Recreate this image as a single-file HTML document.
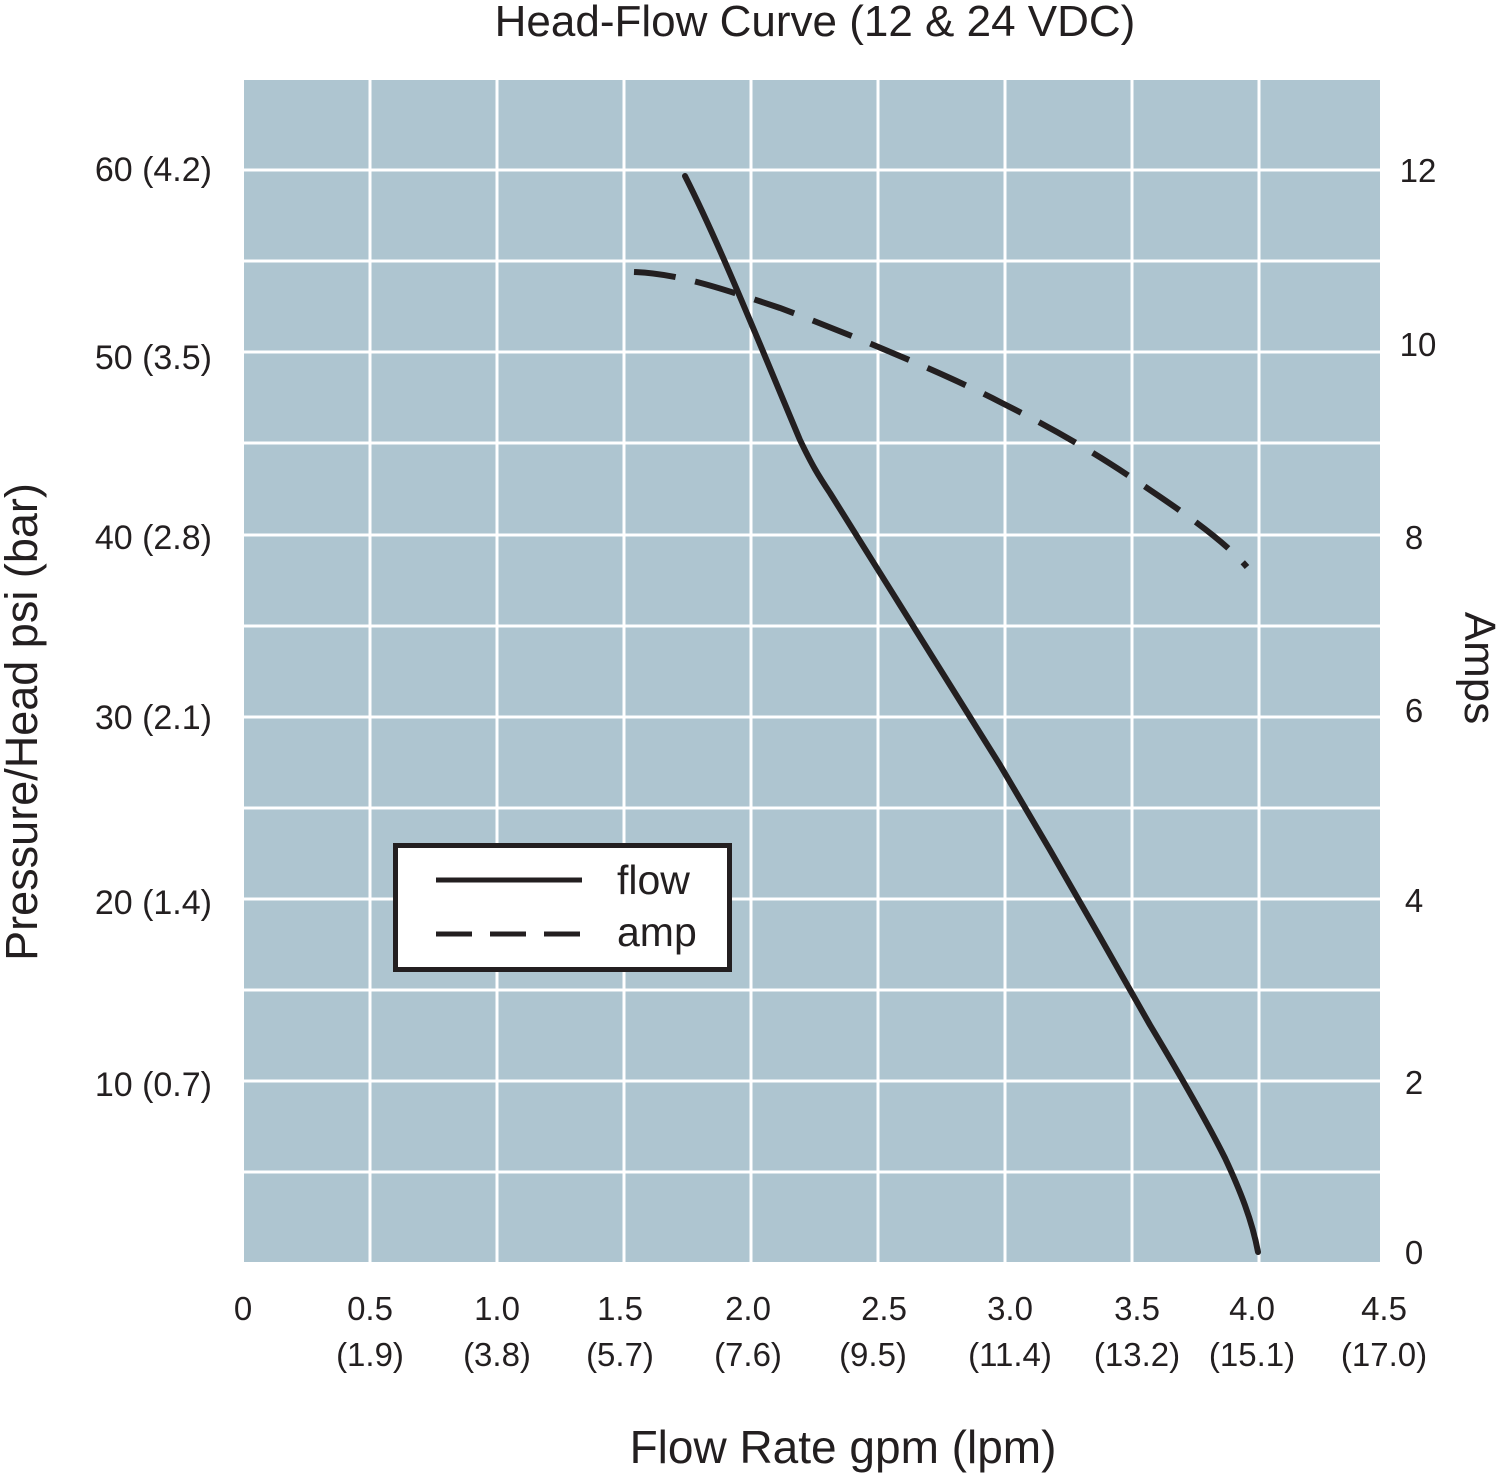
<!DOCTYPE html>
<html><head><meta charset="utf-8"><style>html,body{margin:0;padding:0;background:#fff}</style></head>
<body>
<svg width="1500" height="1476" viewBox="0 0 1500 1476" xmlns="http://www.w3.org/2000/svg" font-family="Liberation Sans, sans-serif" fill="#231f20">
<rect x="244" y="80" width="1136" height="1182" fill="#aec5d0"/>
<g stroke="#fff" stroke-width="3">
<line x1="370" y1="80" x2="370" y2="1262"/><line x1="497" y1="80" x2="497" y2="1262"/>
<line x1="624" y1="80" x2="624" y2="1262"/><line x1="751" y1="80" x2="751" y2="1262"/>
<line x1="878" y1="80" x2="878" y2="1262"/><line x1="1005" y1="80" x2="1005" y2="1262"/>
<line x1="1132" y1="80" x2="1132" y2="1262"/><line x1="1259" y1="80" x2="1259" y2="1262"/>
<line x1="244" y1="170" x2="1380" y2="170"/><line x1="244" y1="261" x2="1380" y2="261"/>
<line x1="244" y1="352" x2="1380" y2="352"/><line x1="244" y1="443" x2="1380" y2="443"/>
<line x1="244" y1="535" x2="1380" y2="535"/><line x1="244" y1="626" x2="1380" y2="626"/>
<line x1="244" y1="717" x2="1380" y2="717"/><line x1="244" y1="808" x2="1380" y2="808"/>
<line x1="244" y1="899" x2="1380" y2="899"/><line x1="244" y1="990" x2="1380" y2="990"/>
<line x1="244" y1="1081" x2="1380" y2="1081"/><line x1="244" y1="1172" x2="1380" y2="1172"/>
</g>
<path d="M685,176 C720,245 760,345 800,440 C812,465 818,475 830,493 L900,605 L950,685 L1000,765 L1050,850 L1100,937 L1150,1025 C1180,1075 1205,1118 1225,1158 C1240,1190 1252,1220 1258,1252" fill="none" stroke="#231f20" stroke-width="6" stroke-linecap="round" stroke-linejoin="round"/>
<path d="M634,272 C680,274 720,288 780,308 C850,334 950,376 1000,402 C1060,432 1100,456 1150,490 C1190,517 1225,542 1247,567" fill="none" stroke="#231f20" stroke-width="6" stroke-dasharray="42,20"/>
<rect x="395.5" y="845.5" width="334" height="124" fill="#fff" stroke="#231f20" stroke-width="5"/>
<line x1="436" y1="880" x2="582" y2="880" stroke="#231f20" stroke-width="5"/>
<line x1="436" y1="934" x2="582" y2="934" stroke="#231f20" stroke-width="5" stroke-dasharray="36,18"/>
<text x="617" y="894" font-size="41">flow</text>
<text x="617" y="946" font-size="41">amp</text>
<text x="815" y="36" font-size="44" text-anchor="middle">Head-Flow Curve (12 &amp; 24 VDC)</text>
<g font-size="34" text-anchor="end">
<text x="212" y="181">60 (4.2)</text><text x="212" y="369">50 (3.5)</text>
<text x="212" y="549">40 (2.8)</text><text x="212" y="729">30 (2.1)</text>
<text x="212" y="914">20 (1.4)</text><text x="212" y="1096">10 (0.7)</text>
</g>
<g font-size="33" text-anchor="middle">
<text x="1418" y="182">12</text><text x="1418" y="356">10</text><text x="1414" y="549">8</text>
<text x="1414" y="722">6</text><text x="1414" y="912">4</text><text x="1414" y="1094">2</text><text x="1414" y="1264">0</text>
<text x="243" y="1320">0</text>
<text x="370" y="1320">0.5</text><text x="370" y="1366">(1.9)</text>
<text x="497" y="1320">1.0</text><text x="497" y="1366">(3.8)</text>
<text x="620" y="1320">1.5</text><text x="620" y="1366">(5.7)</text>
<text x="748" y="1320">2.0</text><text x="748" y="1366">(7.6)</text>
<text x="884" y="1320">2.5</text><text x="873" y="1366">(9.5)</text>
<text x="1010" y="1320">3.0</text><text x="1010" y="1366">(11.4)</text>
<text x="1137" y="1320">3.5</text><text x="1137" y="1366">(13.2)</text>
<text x="1252" y="1320">4.0</text><text x="1252" y="1366">(15.1)</text>
<text x="1384" y="1320">4.5</text><text x="1384" y="1366">(17.0)</text>
</g>
<text x="843" y="1463" font-size="46" text-anchor="middle">Flow Rate gpm (lpm)</text>
<text transform="translate(37,722) rotate(-90)" font-size="45" text-anchor="middle">Pressure/Head psi (bar)</text>
<text transform="translate(1465,668) rotate(90)" font-size="44" text-anchor="middle">Amps</text>
</svg>
</body></html>
